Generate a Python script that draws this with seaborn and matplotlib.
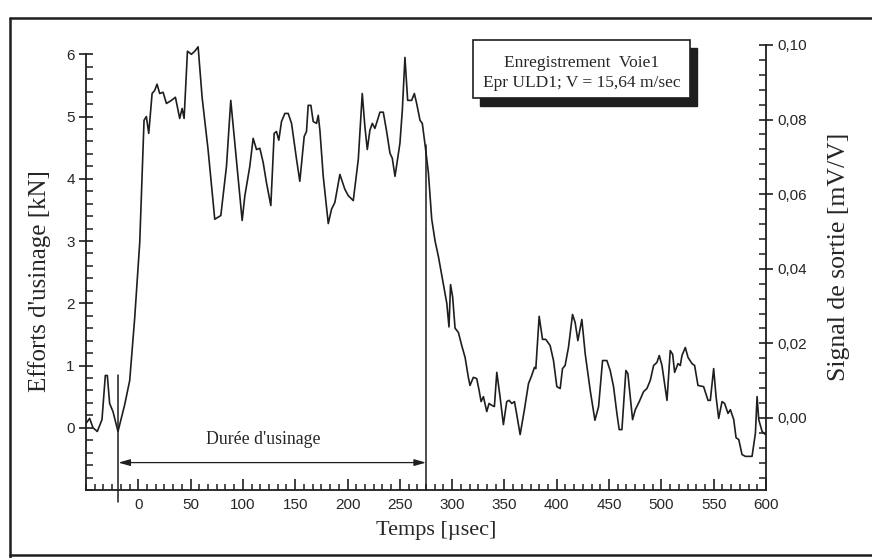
import matplotlib
matplotlib.use("Agg")
import matplotlib.pyplot as plt
from matplotlib.ticker import FixedLocator, MultipleLocator, FixedFormatter
from matplotlib.patches import Rectangle
from matplotlib.lines import Line2D
import seaborn as sns
import pandas as pd

# signal (time in µs, effort in kN)
time_us = [
    -50, -46.5, -43.3, -39.2, -34.7, -31.5, -29.6, -27.4, -24.2, -19.4,
    -13, -8.2, -3.4, 1.4, 5.5, 7.7, 10.0, 13.2, 15.7, 17.9,
    20.5, 23.7, 26.9, 31.7, 35.5, 39.6, 41.9, 43.8, 47.0, 50.8,
    54.0, 57.2, 61.0, 66.7, 73.1, 78.9, 84.3, 88.4, 92.3, 99.3,
    101.8, 106.6, 109.8, 113.0, 116.2, 119.4, 122.5, 126.7, 129.9, 132.1,
    134.3, 136.9, 140.1, 143.3, 146.5, 151.3, 154.4, 158.6, 160.8, 162.4,
    165.0, 167.2, 170.4, 172.0, 173.6, 176.8, 181.6, 184.7, 187.9, 192.7,
    197.5, 200.7, 205.5, 210.3, 214.1, 216.6, 218.9, 221.4, 223.7, 226.2,
    231.0, 234.2, 237.4, 240.6, 242.8, 245.4, 250.1, 252.4, 254.9, 257.5,
    261.3, 263.9, 266.1, 269.3, 271.5, 274.1, 277.3, 280.5, 283.7, 286.9,
    291.7, 294.9, 297.0, 298.5, 300.5, 302.8, 306.0, 309.2, 312.4, 315.5,
    317.1, 320.3, 323.5, 325.8, 327.7, 329.9, 333.1, 335.3, 337.9, 340.4,
    342.7, 345.8, 349.0, 352.2, 354.5, 357.0, 359.6, 361.8, 365.0, 369.1,
    373.0, 376.1, 378.7, 380.0, 383.2, 386.4, 389.5, 393.7, 396.9, 400.1,
    403.3, 405.5, 408.0, 411.2, 415.1, 417.6, 420.2, 424.0, 427.2, 432.0,
    436.5, 440.0, 443.8, 447.9, 451.1, 454.3, 457.5, 459.7, 462.3, 466.1,
    468.0, 470.3, 472.5, 475.1, 478.9, 483.0, 486.2, 489.4, 492.6, 495.8,
    498.0, 500.6, 505.4, 508.5, 510.8, 512.7, 515.9, 518.1, 519.7, 522.9,
    525.5, 529.3, 531.8, 535.0, 540.4, 544.6, 546.8, 550.0, 552.3, 554.8,
    558.0, 560.5, 563.7, 566.0, 569.2, 571.4, 574.0, 577.1, 580.3, 586.7,
    589.9, 591.5, 593.1, 596.3, 599.5,
]
effort_kN = [
    0.07, 0.15, 0.0, -0.06, 0.13, 0.84, 0.84, 0.39, 0.26, -0.06,
    0.37, 0.76, 1.77, 2.98, 4.94, 5.0, 4.73, 5.37, 5.42, 5.52,
    5.37, 5.39, 5.21, 5.26, 5.31, 4.97, 5.13, 4.97, 6.05, 6.0,
    6.05, 6.12, 5.31, 4.47, 3.35, 3.41, 4.2, 5.26, 4.57, 3.33,
    3.72, 4.2, 4.65, 4.47, 4.49, 4.26, 3.94, 3.57, 4.73, 4.76,
    4.62, 4.92, 5.05, 5.05, 4.89, 4.31, 3.96, 4.68, 4.76, 5.18,
    5.18, 4.92, 4.89, 5.02, 4.78, 4.04, 3.28, 3.51, 3.62, 4.07,
    3.83, 3.73, 3.65, 4.31, 5.37, 4.84, 4.47, 4.78, 4.89, 4.81,
    5.07, 5.07, 4.76, 4.41, 4.33, 4.04, 4.57, 5.10, 5.95, 5.26,
    5.26, 5.37, 5.21, 4.94, 4.89, 4.55, 4.1, 3.35, 3.0, 2.75,
    2.3, 2.0, 1.62, 2.3, 2.1, 1.6, 1.53, 1.32, 1.13, 0.81,
    0.68, 0.81, 0.79, 0.60, 0.42, 0.50, 0.26, 0.39, 0.36, 0.34,
    0.89, 0.50, 0.05, 0.42, 0.44, 0.39, 0.42, 0.21, -0.11, 0.29,
    0.71, 0.84, 0.97, 0.95, 1.79, 1.42, 1.42, 1.32, 1.08, 0.66,
    0.63, 0.95, 1.0, 1.29, 1.82, 1.69, 1.40, 1.74, 1.19, 0.60,
    0.12, 0.34, 1.08, 1.08, 0.92, 0.66, 0.23, -0.03, -0.03, 0.92,
    0.87, 0.50, 0.13, 0.29, 0.42, 0.58, 0.63, 0.76, 1.0, 1.05,
    1.16, 1.0, 0.44, 1.24, 1.18, 0.89, 1.03, 1.0, 1.16, 1.29,
    1.13, 1.03, 1.0, 0.68, 0.66, 0.44, 0.44, 0.95, 0.50, 0.15,
    0.42, 0.39, 0.23, 0.29, 0.13, -0.16, -0.19, -0.43, -0.46, -0.46,
    -0.09, 0.50, 0.13, -0.06, -0.11,
]

time_ticks = [0, 50, 100, 150, 200, 250, 300, 350, 400, 450, 500, 550, 600]
effort_ticks = [0, 1, 2, 3, 4, 5, 6]
signal_ticks = [0.0, 0.02, 0.04, 0.06, 0.08, 0.10]
signal_labels = ["0,00", "0,02", "0,04", "0,06", "0,08", "0,10"]

# machining window (µs)
usinage_start = -19
usinage_end = 275

df = pd.DataFrame({"t": time_us, "F": effort_kN})

sns.set_style("ticks")
plt.rcParams["font.family"] = ["Liberation Sans", "DejaVu Sans"]
serif = ["Liberation Serif", "DejaVu Serif"]
ink = "#1e1e1e"

fig = plt.figure(figsize=(8.72, 5.58), dpi=100)
ax = fig.add_axes([0.0986, 0.1219, 0.7798, 0.7975])
ax2 = ax.twinx()

sns.lineplot(data=df, x="t", y="F", ax=ax, color=ink, linewidth=1.2,
             estimator=None, sort=False)

ax.set_xlim(-50, 600)
ax.set_ylim(-1, 6.15)
ax2.set_ylim(-0.0193, 0.10)

# axes frame: open top, left spine stops at 6 kN
ax.spines["top"].set_visible(False)
ax.spines["right"].set_visible(False)
ax.spines["left"].set_bounds(-1, 6)
for s in ["top", "left", "bottom"]:
    ax2.spines[s].set_visible(False)
for sp in [ax.spines["left"], ax.spines["bottom"], ax2.spines["right"]]:
    sp.set_linewidth(1.3)
    sp.set_color(ink)

ax.xaxis.set_major_locator(FixedLocator(time_ticks))
ax.xaxis.set_minor_locator(MultipleLocator(50 / 6))
ax.yaxis.set_major_locator(FixedLocator(effort_ticks))
ax.yaxis.set_minor_locator(MultipleLocator(0.2))
ax2.yaxis.set_major_locator(FixedLocator(signal_ticks))
ax2.yaxis.set_major_formatter(FixedFormatter(signal_labels))
ax2.yaxis.set_minor_locator(MultipleLocator(0.004))

ax.tick_params(axis="x", which="major", direction="in", length=8, width=1.2,
               labelsize=11, pad=6, color=ink)
ax.tick_params(axis="x", which="minor", direction="in", length=4, width=1.1, color=ink)
ax.tick_params(axis="y", which="major", direction="inout", length=10, width=1.2,
               labelsize=11, pad=3, color=ink)
ax.tick_params(axis="y", which="minor", direction="in", length=5, width=1.1, color=ink)
ax2.tick_params(axis="y", which="major", direction="inout", length=10, width=1.2,
                labelsize=11, pad=3, color=ink)
ax2.tick_params(axis="y", which="minor", direction="in", length=5, width=1.1, color=ink)

ax.set_xlabel("Temps [µsec]", family=serif, fontsize=16, va="center")
ax.xaxis.set_label_coords(0.515, -0.092)
ax.set_ylabel("Efforts d'usinage [kN]", family=serif, fontsize=18, va="center")
ax.yaxis.set_label_coords(-0.068, 0.47)
ax2.set_ylabel("Signal de sortie [mV/V]", family=serif, fontsize=18.5, va="center",
               rotation=90)
ax2.yaxis.set_label_coords(1.107, 0.524)

# machining duration markers
ax.plot([usinage_start, usinage_start], [-1.2, 0.84], color=ink, lw=1.1, clip_on=False)
ax.plot([usinage_end, usinage_end], [-1.0, 4.55], color=ink, lw=1.1, clip_on=False)
ax.annotate("", xy=(usinage_start, -0.56), xytext=(usinage_end, -0.56),
            arrowprops=dict(arrowstyle="<|-|>,head_length=0.7,head_width=0.2",
                            color=ink, lw=0.9, shrinkA=0, shrinkB=0))
ax.text((usinage_start + usinage_end) / 2 - 9, -0.19, "Durée d'usinage",
        family=serif, fontsize=12.8, ha="center", va="center")

# boxed caption with drop shadow
bx, by, bw, bh = 0.569, 0.881, 0.319, 0.13
ax.add_patch(Rectangle((bx + 0.0105, by - 0.018), bw, bh, transform=ax.transAxes,
                       facecolor=ink, edgecolor=ink, clip_on=False, zorder=5))
ax.add_patch(Rectangle((bx, by), bw, bh, transform=ax.transAxes,
                       facecolor="white", edgecolor=ink, lw=1.2, clip_on=False, zorder=6))
ax.text(bx + bw / 2, 0.9596, "Enregistrement  Voie1", transform=ax.transAxes,
        family=serif, fontsize=12.5, ha="center", va="center", zorder=7)
ax.text(bx + bw / 2, 0.9146, "Epr ULD1; V = 15,64 m/sec", transform=ax.transAxes,
        family=serif, fontsize=12.5, ha="center", va="center", zorder=7)

# outer frame of the scanned figure
W, H = 872, 558
for (x0, y0, x1, y1) in [(10, 18, 10, 558), (10, 18, 872, 18), (10, 555, 872, 555)]:
    fig.add_artist(Line2D([x0 / W, x1 / W], [1 - y0 / H, 1 - y1 / H], color=ink, lw=1.8))

fig.savefig("out.png", dpi=100, facecolor="white")
plt.close(fig)
